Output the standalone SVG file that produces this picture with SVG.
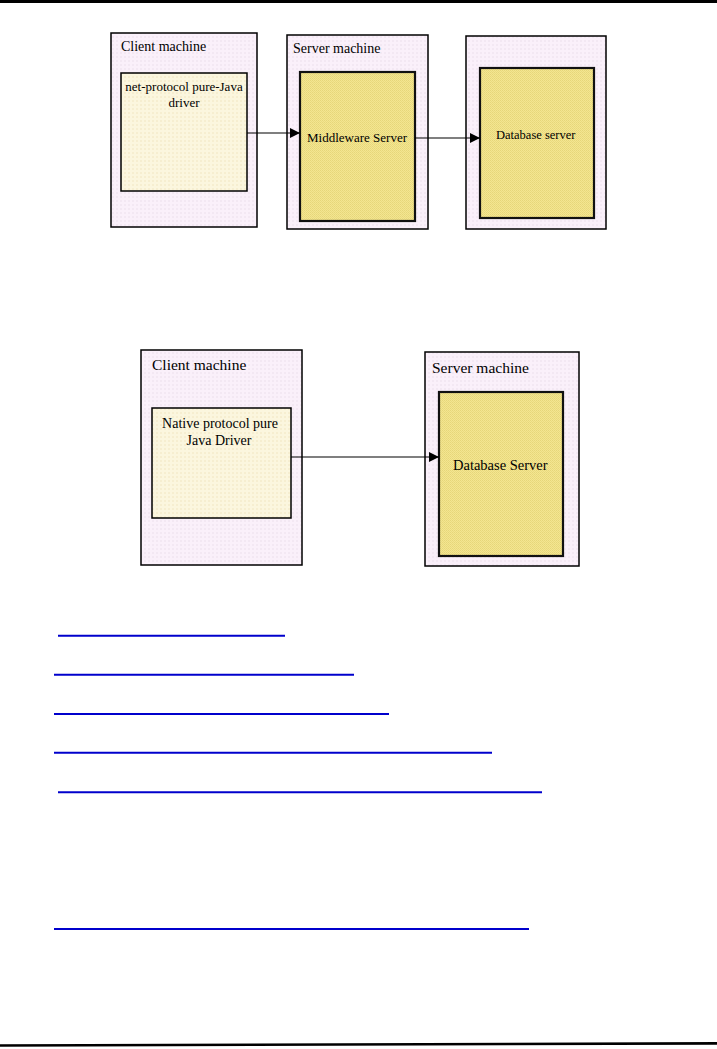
<svg xmlns="http://www.w3.org/2000/svg" width="717" height="1049" viewBox="0 0 717 1049">
<defs>
<marker id="arr" viewBox="0 0 10 10" refX="10" refY="5" markerWidth="10" markerHeight="10" markerUnits="userSpaceOnUse" orient="auto">
<path d="M0,0 L10,5 L0,10 Z" fill="#000"/>
</marker>
<pattern id="dotPink" width="4" height="4" patternUnits="userSpaceOnUse">
<rect width="4" height="4" fill="#FAF0FA"/>
<rect width="2" height="2" fill="#F3E8F3"/>
</pattern>
<pattern id="dotCream" width="4" height="4" patternUnits="userSpaceOnUse">
<rect width="4" height="4" fill="#FBF6DE"/>
<rect width="2" height="2" fill="#F6EED0"/>
</pattern>
<pattern id="dotYellow" width="2" height="2" patternUnits="userSpaceOnUse">
<rect width="2" height="2" fill="#F4E690"/>
<rect width="1" height="1" fill="#E6D67A"/>
<rect x="1" y="1" width="1" height="1" fill="#EADA80"/>
</pattern>
</defs>
<style>
.outer{fill:url(#dotPink);stroke:#000;stroke-width:1.5}
.cream{fill:url(#dotCream);stroke:#000;stroke-width:1.5}
.yellow{fill:url(#dotYellow);stroke:#111;stroke-width:2.2}
.t{font-family:"Liberation Serif","Times New Roman",serif;fill:#000}
.conn{stroke:#000;stroke-width:1.2;fill:none;marker-end:url(#arr)}
.link{stroke:#0000CC;stroke-width:2}
</style>
<rect x="0" y="0" width="717" height="3" fill="#000"/>

<!-- Diagram 1 -->
<g id="client1">
<rect class="outer" x="111" y="33" width="146" height="194"/>
<text class="t" x="121" y="51" font-size="14">Client machine</text>
</g>
<g id="driver1">
<rect class="cream" x="121" y="73" width="126" height="118"/>
<text class="t" x="184" y="91" font-size="13" text-anchor="middle">net-protocol pure-Java</text>
<text class="t" x="184" y="107" font-size="13" text-anchor="middle">driver</text>
</g>
<g id="server1">
<rect class="outer" x="287" y="35" width="141" height="194"/>
<text class="t" x="293" y="53" font-size="14">Server machine</text>
</g>
<g id="middleware">
<rect class="yellow" x="300" y="72" width="115" height="149"/>
<text class="t" x="307" y="142" font-size="13">Middleware Server</text>
</g>
<g id="dbmachine1">
<rect class="outer" x="466" y="36" width="140" height="193"/>
</g>
<g id="dbserver1">
<rect class="yellow" x="480" y="68" width="114" height="150"/>
<text class="t" x="496" y="139" font-size="12.5">Database server</text>
</g>

<!-- Diagram 2 -->
<g id="client2">
<rect class="outer" x="141" y="350" width="161" height="215"/>
<text class="t" x="152" y="370" font-size="15.5">Client machine</text>
</g>
<g id="driver2">
<rect class="cream" x="152" y="408" width="139" height="110"/>
<text class="t" x="220" y="428" font-size="14" text-anchor="middle">Native protocol pure</text>
<text class="t" x="219" y="445" font-size="14" text-anchor="middle">Java Driver</text>
</g>
<g id="server2">
<rect class="outer" x="425" y="352" width="154" height="214"/>
<text class="t" x="432" y="373" font-size="15.5">Server machine</text>
</g>
<g id="dbserver2">
<rect class="yellow" x="439" y="392" width="124" height="164"/>
<text class="t" x="453" y="470" font-size="14.5">Database Server</text>
</g>

<g id="connectors">
<line class="conn" x1="247" y1="133" x2="300" y2="133"/>
<line class="conn" x1="415" y1="138" x2="480" y2="138"/>
<line class="conn" x1="291" y1="457" x2="439" y2="457"/>
</g>

<g id="links">
<line class="link" x1="58" y1="635.7" x2="285" y2="635.7"/>
<line class="link" x1="54" y1="674.7" x2="354" y2="674.7"/>
<line class="link" x1="54" y1="714" x2="389" y2="714"/>
<line class="link" x1="54" y1="752.7" x2="492" y2="752.7"/>
<line class="link" x1="58" y1="792.3" x2="542" y2="792.3" stroke-width="1.3"/>
<line class="link" x1="54" y1="929" x2="529" y2="929"/>
</g>

<polygon points="0,1044.3 717,1042 717,1044.7 0,1046.7" fill="#000"/>
</svg>
